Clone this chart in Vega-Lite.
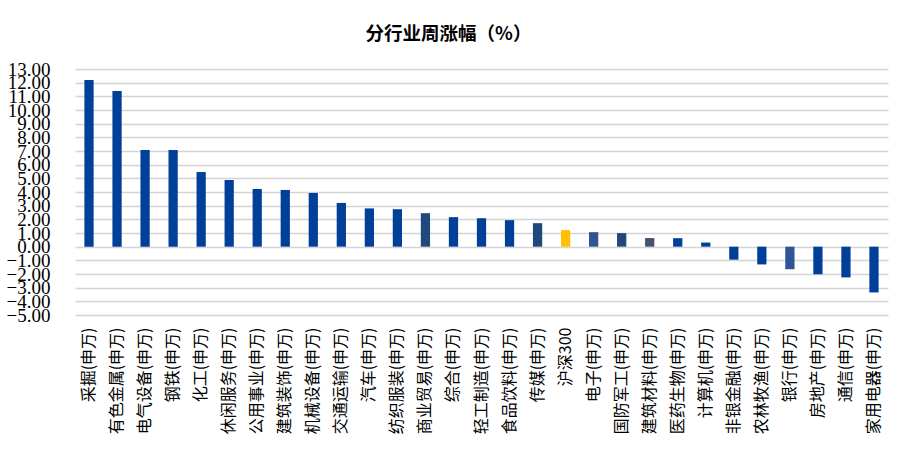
{
  "$schema": "https://vega.github.io/schema/vega-lite/v6.json",
  "width": 813,
  "height": 246,
  "autosize": {"type": "none"},
  "padding": {"left": 75, "top": 69, "right": 21, "bottom": 141},
  "background": "white",
  "title": {
    "text": "分行业周涨幅（%）",
    "font": "Noto Sans CJK SC",
    "fontSize": 18.5,
    "fontWeight": "bold",
    "color": "#000000",
    "anchor": "middle",
    "dx": -33,
    "offset": 17
  },
  "data": {
    "values": [
      {"行业": "采掘(申万)", "涨幅": 12.2},
      {"行业": "有色金属(申万)", "涨幅": 11.39},
      {"行业": "电气设备(申万)", "涨幅": 7.07},
      {"行业": "钢铁(申万)", "涨幅": 7.07},
      {"行业": "化工(申万)", "涨幅": 5.46},
      {"行业": "休闲服务(申万)", "涨幅": 4.88},
      {"行业": "公用事业(申万)", "涨幅": 4.22},
      {"行业": "建筑装饰(申万)", "涨幅": 4.15},
      {"行业": "机械设备(申万)", "涨幅": 3.93},
      {"行业": "交通运输(申万)", "涨幅": 3.2},
      {"行业": "汽车(申万)", "涨幅": 2.8},
      {"行业": "纺织服装(申万)", "涨幅": 2.74},
      {"行业": "商业贸易(申万)", "涨幅": 2.45},
      {"行业": "综合(申万)", "涨幅": 2.16},
      {"行业": "轻工制造(申万)", "涨幅": 2.08},
      {"行业": "食品饮料(申万)", "涨幅": 1.94},
      {"行业": "传媒(申万)", "涨幅": 1.72},
      {"行业": "沪深300", "涨幅": 1.21},
      {"行业": "电子(申万)", "涨幅": 1.06},
      {"行业": "国防军工(申万)", "涨幅": 0.99},
      {"行业": "建筑材料(申万)", "涨幅": 0.63},
      {"行业": "医药生物(申万)", "涨幅": 0.62},
      {"行业": "计算机(申万)", "涨幅": 0.3},
      {"行业": "非银金融(申万)", "涨幅": -0.95},
      {"行业": "农林牧渔(申万)", "涨幅": -1.3},
      {"行业": "银行(申万)", "涨幅": -1.65},
      {"行业": "房地产(申万)", "涨幅": -2.02},
      {"行业": "通信(申万)", "涨幅": -2.25},
      {"行业": "家用电器(申万)", "涨幅": -3.35}
    ]
  },
  "mark": {"type": "bar"},
  "encoding": {
    "x": {
      "field": "行业",
      "type": "nominal",
      "sort": null,
      "scale": {"paddingInner": 0.67, "paddingOuter": 0.335},
      "axis": {
        "title": null,
        "orient": "bottom",
        "labelAngle": -90,
        "labelFont": "Noto Sans CJK SC",
        "labelFontSize": 16,
        "labelColor": "#000000",
        "labelPadding": 12,
        "domain": false,
        "ticks": false,
        "labelLimit": 200
      }
    },
    "y": {
      "field": "涨幅",
      "type": "quantitative",
      "scale": {"domain": [-5, 13], "nice": false, "zero": false},
      "axis": {
        "title": null,
        "values": [-5, -4, -3, -2, -1, 0, 1, 2, 3, 4, 5, 6, 7, 8, 9, 10, 11, 12, 13],
        "format": ".2f",
        "labelFont": "Liberation Sans Narrow",
        "labelFontSize": 19,
        "labelColor": "#000000",
        "labelPadding": 25,
        "labelOverlap": false,
        "labelBound": false,
        "domain": false,
        "ticks": false,
        "grid": true,
        "gridColor": "#D4D4D4",
        "gridWidth": 1.5
      }
    },
    "color": {
      "field": "行业",
      "type": "nominal",
      "legend": null,
      "scale": {
        "domain": ["采掘(申万)", "有色金属(申万)", "电气设备(申万)", "钢铁(申万)", "化工(申万)", "休闲服务(申万)", "公用事业(申万)", "建筑装饰(申万)", "机械设备(申万)", "交通运输(申万)", "汽车(申万)", "纺织服装(申万)", "商业贸易(申万)", "综合(申万)", "轻工制造(申万)", "食品饮料(申万)", "传媒(申万)", "沪深300", "电子(申万)", "国防军工(申万)", "建筑材料(申万)", "医药生物(申万)", "计算机(申万)", "非银金融(申万)", "农林牧渔(申万)", "银行(申万)", "房地产(申万)", "通信(申万)", "家用电器(申万)"],
        "range": ["#00409A", "#00409A", "#00409A", "#00409A", "#00409A", "#00409A", "#00409A", "#00409A", "#00409A", "#00409A", "#00409A", "#00409A", "#1F497D", "#00409A", "#00409A", "#00409A", "#1F497D", "#FFC000", "#2F5597", "#1F497D", "#44546A", "#00409A", "#00409A", "#00409A", "#00409A", "#2F5597", "#00409A", "#00409A", "#00409A"]
      }
    }
  },
  "config": {"view": {"stroke": null}}
}
